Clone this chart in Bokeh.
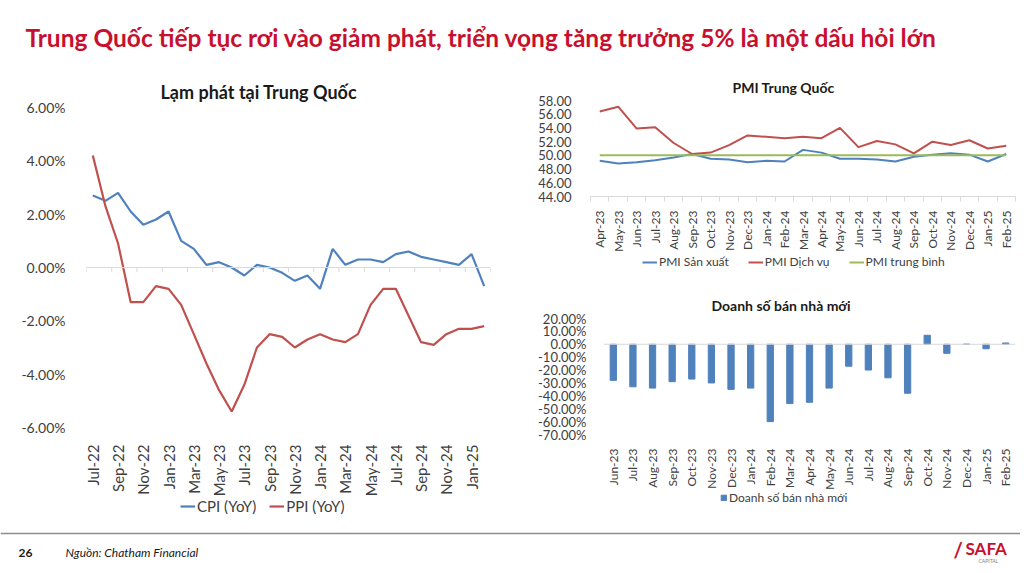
import math
from bokeh.plotting import figure
from bokeh.models import (Range1d, FixedTicker, PrintfTickFormatter, Span, Legend, Label)
from bokeh.embed import file_html
from bokeh.resources import INLINE

FONT = "Lato"
BLUE = "#4F81BD"
RED = "#C0504D"
GREEN = "#9BBB59"
TITLE_RED = "#C8102E"
AXIS_GRAY = "#D9D9D9"
TEXT = "#404040"

# ---------------- data ----------------
infl_months = ["Jul-22", "Aug-22", "Sep-22", "Oct-22", "Nov-22", "Dec-22",
               "Jan-23", "Feb-23", "Mar-23", "Apr-23", "May-23", "Jun-23",
               "Jul-23", "Aug-23", "Sep-23", "Oct-23", "Nov-23", "Dec-23",
               "Jan-24", "Feb-24", "Mar-24", "Apr-24", "May-24", "Jun-24",
               "Jul-24", "Aug-24", "Sep-24", "Oct-24", "Nov-24", "Dec-24",
               "Jan-25", "Feb-25"]
cpi = [2.7, 2.5, 2.8, 2.1, 1.6, 1.8, 2.1, 1.0, 0.7, 0.1, 0.2, 0.0,
       -0.3, 0.1, 0.0, -0.2, -0.5, -0.3, -0.8, 0.7, 0.1, 0.3, 0.3, 0.2,
       0.5, 0.6, 0.4, 0.3, 0.2, 0.1, 0.5, -0.7]
ppi = [4.2, 2.3, 0.9, -1.3, -1.3, -0.7, -0.8, -1.4, -2.5, -3.6, -4.6, -5.4,
       -4.4, -3.0, -2.5, -2.6, -3.0, -2.7, -2.5, -2.7, -2.8, -2.5, -1.4, -0.8,
       -0.8, -1.8, -2.8, -2.9, -2.5, -2.3, -2.3, -2.2]
infl_label_months = ["Jul-22", "Sep-22", "Nov-22", "Jan-23", "Mar-23", "May-23",
                     "Jul-23", "Sep-23", "Nov-23", "Jan-24", "Mar-24", "May-24",
                     "Jul-24", "Sep-24", "Nov-24", "Jan-25"]
infl_ticks = [-6, -4, -2, 0, 2, 4, 6]

pmi_months = ["Apr-23", "May-23", "Jun-23", "Jul-23", "Aug-23", "Sep-23",
              "Oct-23", "Nov-23", "Dec-23", "Jan-24", "Feb-24", "Mar-24",
              "Apr-24", "May-24", "Jun-24", "Jul-24", "Aug-24", "Sep-24",
              "Oct-24", "Nov-24", "Dec-24", "Jan-25", "Feb-25"]
pmi_mfg = [49.2, 48.8, 49.0, 49.3, 49.7, 50.2, 49.5, 49.4, 49.0, 49.2, 49.1, 50.8,
           50.4, 49.5, 49.5, 49.4, 49.1, 49.8, 50.1, 50.3, 50.1, 49.1, 50.2]
pmi_svc = [56.4, 57.1, 53.9, 54.1, 51.8, 50.2, 50.4, 51.5, 52.9, 52.7, 52.5, 52.7,
           52.5, 54.0, 51.2, 52.1, 51.6, 50.3, 52.0, 51.5, 52.2, 51.0, 51.4]
pmi_avg = [50.0, 50.0, 50.0, 50.0, 50.0, 50.0, 50.0, 50.0, 50.0, 50.0, 50.0, 50.0,
           50.0, 50.0, 50.0, 50.0, 50.0, 50.0, 50.0, 50.0, 50.0, 50.0, 50.0]
pmi_ticks = [44, 46, 48, 50, 52, 54, 56, 58]

home_months = ["Jun-23", "Jul-23", "Aug-23", "Sep-23", "Oct-23", "Nov-23",
               "Dec-23", "Jan-24", "Feb-24", "Mar-24", "Apr-24", "May-24",
               "Jun-24", "Jul-24", "Aug-24", "Sep-24", "Oct-24", "Nov-24",
               "Dec-24", "Jan-25", "Feb-25"]
home_sales = [-28, -33, -34, -29, -27, -30, -35, -34, -60, -46, -45, -34,
              -17, -20, -26, -38, 7, -7, 0, -3.5, 1]
home_ticks = [-70, -60, -50, -40, -30, -20, -10, 0, 10, 20]


def base_fig(fw, fh, xr, yr, bl, br, bt, bb):
    f = figure(frame_width=fw, frame_height=fh, x_range=xr, y_range=yr,
               output_backend="svg", toolbar_location=None,
               min_border_left=bl, min_border_right=br,
               min_border_top=bt, min_border_bottom=bb)
    f.outline_line_color = None
    f.grid.visible = False
    for ax in (f.xaxis[0], f.yaxis[0]):
        ax.major_label_text_font = FONT
        ax.major_label_text_color = TEXT
    f.yaxis.axis_line_color = None
    f.yaxis.major_tick_line_color = None
    f.yaxis.minor_tick_line_color = None
    f.xaxis.major_label_orientation = math.pi / 2
    f.title.text_font = FONT
    f.title.text_font_style = "bold"
    f.title.text_color = "#1a1a1a"
    f.title.align = "left"
    return f


def legend_strip(w, h):
    # separate strip that carries a legend below a chart (legend samples only)
    s = figure(width=w, height=h, x_range=Range1d(0, 1), y_range=Range1d(100, 101),
               output_backend="svg", toolbar_location=None, x_axis_type=None, y_axis_type=None,
               min_border=0)
    s.outline_line_color = None
    s.grid.visible = False
    s.background_fill_alpha = 0
    s.border_fill_alpha = 0
    return s


def style_legend(lg, size, loc, spacing, gh):
    lg.label_text_font = FONT
    lg.label_text_font_size = size
    lg.label_text_color = TEXT
    lg.border_line_color = None
    lg.background_fill_alpha = 0
    lg.orientation = "horizontal"
    lg.location = loc
    lg.glyph_width = 15
    lg.glyph_height = gh
    lg.label_standoff = 2
    lg.label_height = gh
    lg.spacing = spacing
    lg.padding = 0
    lg.margin = 0


# ---------------- title strip ----------------
ptitle = figure(width=1020, height=60, x_range=Range1d(0, 1020), y_range=Range1d(60, 0),
                output_backend="svg", toolbar_location=None, x_axis_type=None, y_axis_type=None,
                min_border=0)
ptitle.outline_line_color = None
ptitle.grid.visible = False
ptitle.add_layout(Label(x=25, y=37, text="Trung Quốc tiếp tục rơi vào giảm phát, triển vọng tăng trưởng 5% là một dấu hỏi lớn",
                        text_font=FONT, text_font_style="bold", text_font_size="24.5px",
                        text_color=TITLE_RED, text_baseline="middle"))

# ---------------- left: inflation ----------------
xi = list(range(len(infl_months)))
p1 = base_fig(404, 320, Range1d(-0.5, len(infl_months) - 0.5), Range1d(-6, 6), 86, 10, 47, 95)
p1.title.text = "Lạm phát tại Trung Quốc"
p1.title.text_font_size = "18px"
p1.title.offset = 74
p1.yaxis.ticker = FixedTicker(ticks=infl_ticks)
p1.yaxis.formatter = PrintfTickFormatter(format="%.2f%%")
p1.yaxis.major_label_text_font_size = "14px"
p1.yaxis.major_label_standoff = 15
label_pos = [infl_months.index(m) for m in infl_label_months]
p1.xaxis.ticker = FixedTicker(ticks=label_pos)
p1.xaxis.major_label_overrides = {i: infl_months[i] for i in label_pos}
p1.xaxis.axis_line_color = None
p1.xaxis.major_tick_line_color = None
p1.xaxis.minor_tick_line_color = None
p1.xaxis.major_label_text_font_size = "15px"
p1.xaxis.major_label_standoff = 11
p1.add_layout(Span(location=0, dimension="width", line_color=AXIS_GRAY, line_width=1))
tick_x = [i - 0.5 for i in xi[::2]] + [len(infl_months) - 0.5]
p1.segment(x0=tick_x, y0=[0] * len(tick_x), x1=tick_x, y1=[-0.17] * len(tick_x),
           line_color=AXIS_GRAY, line_width=1)
p1.line(xi, cpi, line_color=BLUE, line_width=2.2)
p1.line(xi, ppi, line_color=RED, line_width=2.2)

leg1 = legend_strip(190, 26)
l_cpi = leg1.line(xi, cpi, line_color=BLUE, line_width=2.2)
l_ppi = leg1.line(xi, ppi, line_color=RED, line_width=2.2)
lg1 = Legend(items=[("CPI (YoY)", [l_cpi]), ("PPI (YoY)", [l_ppi])])
style_legend(lg1, "15px", (10, 4), 13, 18)
leg1.add_layout(lg1)

# ---------------- top right: PMI ----------------
xp = list(range(len(pmi_months)))
p2 = base_fig(425, 96, Range1d(-0.5, len(pmi_months) - 0.5), Range1d(44, 58), 90, 5, 40, 76)
p2.title.text = "PMI Trung Quốc"
p2.title.text_font_size = "14px"
p2.title.offset = 142
p2.yaxis.ticker = FixedTicker(ticks=pmi_ticks)
p2.yaxis.formatter = PrintfTickFormatter(format="%.2f")
p2.yaxis.major_label_text_font_size = "13px"
p2.yaxis.major_label_standoff = 13
p2.xaxis.ticker = FixedTicker(ticks=xp, minor_ticks=[i - 0.5 for i in xp] + [len(xp) - 0.5])
p2.xaxis.major_label_overrides = {i: m for i, m in enumerate(pmi_months)}
p2.xaxis.axis_line_color = AXIS_GRAY
p2.xaxis.major_tick_line_color = None
p2.xaxis.minor_tick_line_color = AXIS_GRAY
p2.xaxis.minor_tick_out = 5
p2.xaxis.minor_tick_in = 0
p2.xaxis.major_label_text_font_size = "12px"
p2.xaxis.major_label_standoff = 8
p2.line(xp, pmi_mfg, line_color=BLUE, line_width=2)
p2.line(xp, pmi_svc, line_color=RED, line_width=2)
p2.line(xp, pmi_avg, line_color=GREEN, line_width=2)

leg2 = legend_strip(360, 24)
l_mfg = leg2.line(xp, pmi_mfg, line_color=BLUE, line_width=2)
l_svc = leg2.line(xp, pmi_svc, line_color=RED, line_width=2)
l_avg = leg2.line(xp, pmi_avg, line_color=GREEN, line_width=2)
lg2 = Legend(items=[("PMI Sản xuất", [l_mfg]), ("PMI Dịch vụ", [l_svc]), ("PMI trung bình", [l_avg])])
style_legend(lg2, "12px", (10, 5), 19, 14)
leg2.add_layout(lg2)

# ---------------- bottom right: new home sales ----------------
xh = list(range(len(home_months)))
p3 = base_fig(412, 116, Range1d(-0.5, len(home_months) - 0.5), Range1d(-70, 20), 103, 5, 43, 74)
p3.title.text = "Doanh số bán nhà mới"
p3.title.text_font_size = "14px"
p3.title.offset = 108
p3.yaxis.ticker = FixedTicker(ticks=home_ticks)
p3.yaxis.formatter = PrintfTickFormatter(format="%.2f%%")
p3.yaxis.major_label_text_font_size = "13px"
p3.yaxis.major_label_standoff = 11
p3.xaxis.ticker = FixedTicker(ticks=xh)
p3.xaxis.major_label_overrides = {i: m for i, m in enumerate(home_months)}
p3.xaxis.axis_line_color = None
p3.xaxis.major_tick_line_color = None
p3.xaxis.minor_tick_line_color = None
p3.xaxis.major_label_text_font_size = "12px"
p3.xaxis.major_label_standoff = 8
p3.add_layout(Span(location=0, dimension="width", line_color=AXIS_GRAY, line_width=1))
p3.vbar(x=xh, top=home_sales, bottom=0, width=0.32, fill_color=BLUE, line_color=BLUE)

leg3 = legend_strip(180, 22)
l_bar = leg3.vbar(x=xh, top=home_sales, bottom=0, width=0.32, fill_color=BLUE, line_color=BLUE)
lg3 = Legend(items=[("Doanh số bán nhà mới", [l_bar])])
style_legend(lg3, "12px", (10, 4), 10, 14)
lg3.glyph_width = 7
lg3.glyph_height = 7
leg3.add_layout(lg3)

# ---------------- footer ----------------
pfoot = figure(width=1020, height=50, x_range=Range1d(0, 1020), y_range=Range1d(50, 0),
               output_backend="svg", toolbar_location=None, x_axis_type=None, y_axis_type=None,
               min_border=0)
pfoot.outline_line_color = None
pfoot.grid.visible = False
pfoot.add_layout(Span(location=13, dimension="width", line_color="#8C8C8C", line_width=1.5))
pfoot.add_layout(Label(x=18, y=32, text="26", text_font=FONT, text_font_style="bold",
                       text_font_size="12px", text_color="#1a1a1a", text_baseline="middle"))
pfoot.add_layout(Label(x=65, y=32, text="Nguồn: Chatham Financial", text_font=FONT,
                       text_font_style="italic", text_font_size="12px", text_color="#1a1a1a",
                       text_baseline="middle"))
pfoot.add_layout(Label(x=953, y=29, text="/", text_font=FONT, text_font_style="bold",
                       text_font_size="20px", text_color=TITLE_RED, text_baseline="middle"))
pfoot.add_layout(Label(x=965, y=28, text="SAFA", text_font=FONT, text_font_style="bold",
                       text_font_size="17px", text_color=TITLE_RED, text_baseline="middle"))
pfoot.add_layout(Label(x=978, y=40, text="CAPITAL", text_font=FONT,
                       text_font_size="5px", text_color="#808080", text_baseline="middle"))

TEMPLATE = """
{% block contents %}
{% from macros import embed %}
<div style="position:absolute;left:0px;top:0px;">{{ embed(roots[0]) }}</div>
<div style="position:absolute;left:0px;top:60px;">{{ embed(roots[1]) }}</div>
<div style="position:absolute;left:500px;top:60px;">{{ embed(roots[2]) }}</div>
<div style="position:absolute;left:500px;top:275px;">{{ embed(roots[3]) }}</div>
<div style="position:absolute;left:0px;top:520px;">{{ embed(roots[4]) }}</div>
<div style="position:absolute;left:170px;top:493px;">{{ embed(roots[5]) }}</div>
<div style="position:absolute;left:632px;top:250px;">{{ embed(roots[6]) }}</div>
<div style="position:absolute;left:710px;top:487px;">{{ embed(roots[7]) }}</div>
{% endblock %}
"""

open("out.html", "w").write(file_html([ptitle, p1, p2, p3, pfoot, leg1, leg2, leg3], INLINE,
                                      template=TEMPLATE))
